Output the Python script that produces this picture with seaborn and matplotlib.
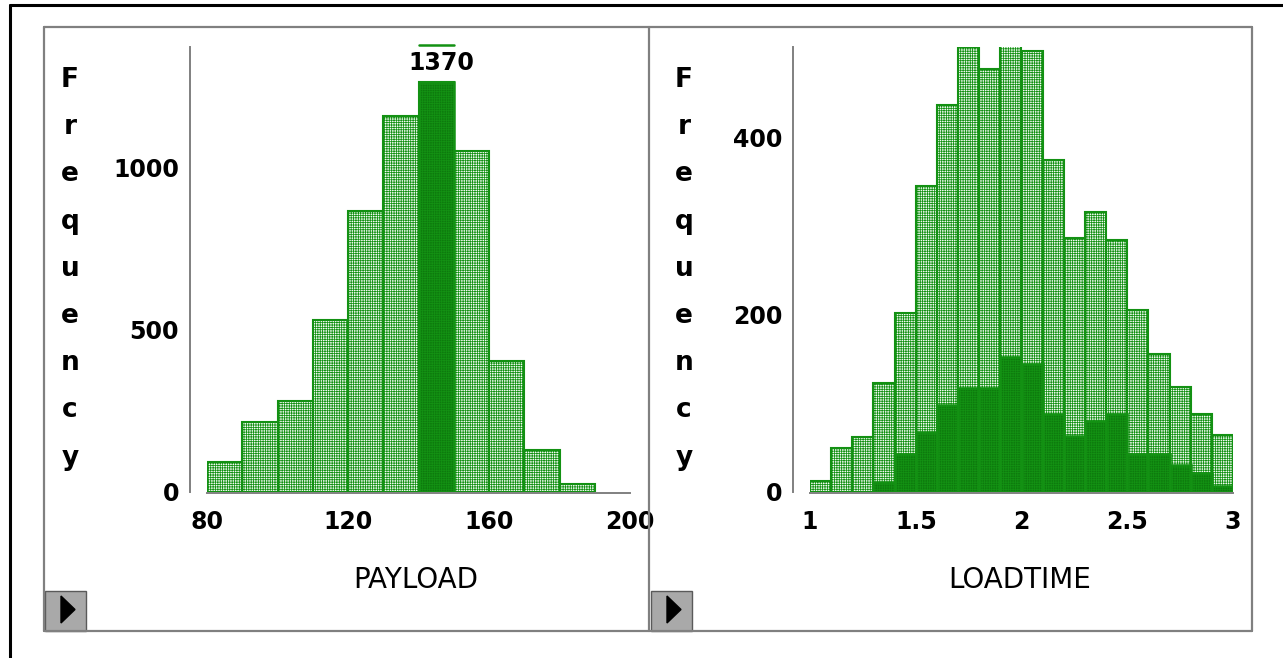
import numpy as np
import matplotlib
matplotlib.use("Agg")
import matplotlib.pyplot as plt
import seaborn as sns
from matplotlib.lines import Line2D
from matplotlib.patches import Rectangle, Polygon

# ==============================
# DATA
# ==============================

payload_edges = [80, 90, 100, 110, 120, 130, 140, 150, 160, 170, 180, 190]
payload_counts = [92, 215, 279, 529, 864, 1157, 1262, 1049, 402, 128, 22]
payload_selected = [140, 150]          # highlighted bin
payload_ymax = 1370

loadtime_edges = [1.0, 1.1, 1.2, 1.3, 1.4, 1.5, 1.6, 1.7, 1.8, 1.9, 2.0,
                  2.1, 2.2, 2.3, 2.4, 2.5, 2.6, 2.7, 2.8, 2.9, 3.0]
loadtime_counts = [12, 49, 62, 122, 202, 345, 436, 502, 477, 504, 497,
                   374, 286, 316, 284, 205, 155, 118, 88, 64]
loadtime_selected = [0, 0, 0, 11, 42, 67, 98, 117, 117, 152, 144,
                     88, 63, 80, 88, 42, 42, 30, 21, 6]
loadtime_ymax = 502

payload_ticks = [80, 120, 160, 200]
payload_minor = [80, 90, 100, 110, 120, 130, 140, 150, 160, 170, 180, 190, 200]
payload_yticks = [0, 500, 1000]
loadtime_ticks = [1, 1.5, 2, 2.5, 3]
loadtime_ticklabels = ["1", "1.5", "2", "2.5", "3"]
loadtime_yticks = [0, 200, 400]

# ==============================
# STYLE
# ==============================

sns.set_style("white")
plt.rcParams["font.family"] = ["DejaVu Sans"]
plt.rcParams["text.color"] = "black"
plt.rcParams["hatch.linewidth"] = 0.55

W, H = 1283, 658
GREEN = "#139113"
DARK = "#0d7a0d"
LIGHT = "#f4fbf4"
GRAY = "#808080"

fig = plt.figure(figsize=(W / 100, H / 100), dpi=100)
fig.patch.set_facecolor("white")


def fx(x):
    return x / W


def fy(y):
    return 1 - y / H


def style_axes(ax, xlim, ylim):
    ax.set_xlim(*xlim)
    ax.set_ylim(*ylim)
    ax.set_facecolor("none")
    for s in ["top", "right"]:
        ax.spines[s].set_visible(False)
    for s in ["left", "bottom"]:
        ax.spines[s].set_color(GRAY)
        ax.spines[s].set_linewidth(1.4)
    ax.spines["left"].set_position(("outward", 12.3))
    ax.spines["bottom"].set_position(("outward", 0.8))
    ax.tick_params(axis="both", which="both", direction="out", length=5.8,
                   width=1.2, color=GRAY, labelcolor="black", labelsize=17)
    ax.tick_params(axis="x", which="both", pad=6.5)
    ax.tick_params(axis="y", which="both", pad=2)
    for lab in ax.get_xticklabels() + ax.get_yticklabels():
        lab.set_fontweight("bold")
    ax.set_xlabel("")
    ax.set_ylabel("")


# ==============================
# LEFT PANEL - PAYLOAD
# ==============================

ax1 = fig.add_axes([fx(207), fy(491.5), fx(630) - fx(207), fy(47) - fy(491.5)])

p_centers = [(a + b) / 2 for a, b in zip(payload_edges[:-1], payload_edges[1:])]
sns.histplot(x=p_centers, weights=payload_counts, bins=payload_edges, ax=ax1,
             facecolor=LIGHT, edgecolor=GREEN, linewidth=1.5, alpha=1,
             hatch="+++++++")

sel_center = [(payload_selected[0] + payload_selected[1]) / 2]
sel_count = [payload_counts[payload_edges.index(payload_selected[0])]]
sns.histplot(x=sel_center, weights=sel_count, bins=payload_selected, ax=ax1,
             facecolor=DARK, edgecolor=GREEN, linewidth=1.8, alpha=1,
             hatch="+++++++")

ax1.set_xticks(payload_ticks)
ax1.set_xticks(payload_minor, minor=True)
ax1.set_yticks(payload_yticks)
style_axes(ax1, (80, 200), (0, payload_ymax))

# selection bar marker and value
ax1.plot(payload_selected, [payload_ymax * 1.005] * 2, color=GREEN, lw=1.8,
         clip_on=False)
fig.text(fx(441), fy(63), "1370", ha="center", va="center", fontsize=17,
         fontweight="bold")

# ==============================
# RIGHT PANEL - LOADTIME
# ==============================

ax2 = fig.add_axes([fx(810), fy(491.5), fx(1233) - fx(810), fy(47) - fy(491.5)])

l_centers = [(a + b) / 2 for a, b in zip(loadtime_edges[:-1], loadtime_edges[1:])]
sns.histplot(x=l_centers, weights=loadtime_counts, bins=loadtime_edges, ax=ax2,
             facecolor=LIGHT, edgecolor=GREEN, linewidth=1.5, alpha=1,
             hatch="+++++++")

first = next(i for i, v in enumerate(loadtime_selected) if v > 0)
sns.histplot(x=l_centers[first:], weights=loadtime_selected[first:],
             bins=loadtime_edges[first:], ax=ax2,
             facecolor=DARK, edgecolor=GREEN, linewidth=1.8, alpha=1,
             hatch="+++++++")

ax2.set_xticks(loadtime_ticks)
ax2.set_xticklabels(loadtime_ticklabels)
ax2.set_xticks(loadtime_edges, minor=True)
ax2.set_yticks(loadtime_yticks)
style_axes(ax2, (1, 3), (0, loadtime_ymax))

# ==============================
# LABELS
# ==============================

for xc in [70, 684]:
    for i, ch in enumerate("Frequency"):
        fig.text(fx(xc), fy(80 + i * 47.2), ch, ha="center", va="center",
                 fontsize=19, fontweight="bold", color="black")

fig.text(fx(416), fy(580), "PAYLOAD", ha="center", va="center", fontsize=20,
         color="black")
fig.text(fx(1020), fy(580), "LOADTIME", ha="center", va="center", fontsize=20,
         color="black")

# ==============================
# WINDOW FRAME AND BUTTONS
# ==============================

frame = [([44, 1252], [27, 27]), ([44, 1252], [631, 631]),
         ([44, 44], [27, 631]), ([1252, 1252], [27, 631]),
         ([649, 649], [27, 631])]
for xs, ys in frame:
    fig.add_artist(Line2D([fx(v) for v in xs], [fy(v) for v in ys],
                          color=GRAY, lw=1.6))

fig.add_artist(Line2D([fx(10), fx(1283)], [fy(5), fy(5)], color="black", lw=2.2))
fig.add_artist(Line2D([fx(10), fx(10)], [fy(5), fy(658)], color="black", lw=2.2))

for bx in [45, 651]:
    fig.add_artist(Rectangle((fx(bx), fy(631)), fx(41), fy(0) - fy(40),
                             facecolor="#a9a9a9", edgecolor="#5a5a5a", lw=1))
    fig.add_artist(Polygon([(fx(bx + 16), fy(596)), (fx(bx + 16), fy(623)),
                            (fx(bx + 30), fy(609.5))], closed=True,
                           facecolor="black", edgecolor="black"))

plt.savefig("out.png", dpi=100, facecolor="white")
